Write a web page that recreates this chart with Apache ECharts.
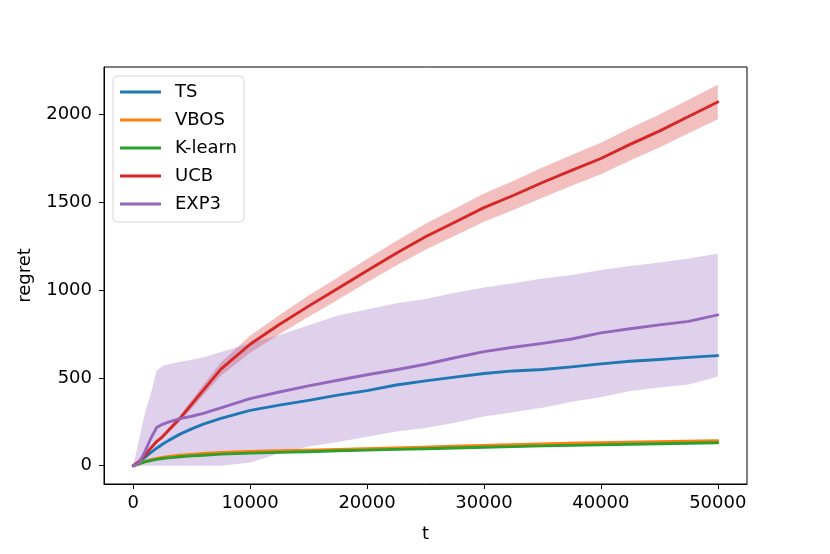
<!DOCTYPE html>
<html>
<head>
<meta charset="utf-8">
<script src="https://cdn.jsdelivr.net/npm/echarts@6/dist/echarts.min.js"></script>
<style>html,body{margin:0;padding:0;background:#fff;}#c{width:830px;height:554px;}</style>
</head>
<body>
<div id="c"></div>
<script>
const t = [0,500,1000,1500,2000,2500,3000,4000,5000,6000,7500,10000,12500,15000,17500,20000,22500,25000,27500,30000,32500,35000,37500,40000,42500,45000,47500,50000];
const ts = [0,20,48,75,100,122,143,180,210,237,270,315,345,372,402,428,460,483,505,525,540,548,563,580,595,605,617,627];
const vbos = [0,10,25,35,42,48,53,60,65,70,75,82,86,89,93,97,101,106,111,116,120,124,128,131,134,137,140,142];
const vbosSpread = [0,2,3,4,5,5,5,6,6,6,6,7,7,7,7,7,7,8,8,8,8,8,8,8,8,8,8,8];
const klearn = [0,10,22,30,36,41,45,51,56,60,66,72,76,80,85,89,93,97,101,105,109,113,116,119,122,125,128,131];
const klearnSpread = [0,1,2,2,3,3,3,3,4,4,4,4,4,4,5,5,5,5,5,5,5,5,5,5,5,5,5,5];
const ucb = [0,25,60,100,138,165,200,270,350,431,550,692,804,909,1009,1111,1210,1304,1387,1470,1539,1613,1682,1750,1830,1906,1989,2072];
const ucbSpread = [0,3,5,7,9,11,13,18,24,30,38,48,55,60,63,66,70,74,77,80,83,86,88,90,92,94,96,98];
const exp3 = [0,15,80,155,218,236,248,268,282,298,330,382,420,455,487,518,547,578,615,650,675,697,722,757,780,802,822,859];
const exp3Low = [0,0,0,0,0,0,0,0,0,0,0,18,70,110,135,165,195,215,245,280,305,330,365,390,425,445,462,507];
const exp3High = [0,150,300,410,540,570,578,592,603,618,648,698,745,800,855,890,925,950,985,1015,1040,1067,1086,1115,1138,1158,1180,1207];
const xTicks = [0,10000,20000,30000,40000,50000];
const yTicks = [0,500,1000,1500,2000];

const names = ['TS','VBOS','K-learn','UCB','EXP3'];
const colors = ['#1f77b4','#ff7f0e','#2ca02c','#d62728','#9467bd'];
const means = [ts, vbos, klearn, ucb, exp3];

function pairs(arr){ return t.map((x,i)=>[x, arr[i]]); }
function sub(a,b){ return a.map((v,i)=>v-b[i]); }
function add(a,b){ return a.map((v,i)=>v+b[i]); }

function bandSeries(name, lows, highs, color, z){
  return {
    type:'custom', name:name, z:z, clip:true, silent:true,
    data:[[0,0]],
    renderItem:function(params, api){
      const pts=[];
      for(let i=0;i<t.length;i++) pts.push(api.coord([t[i], lows[i]]));
      for(let i=t.length-1;i>=0;i--) pts.push(api.coord([t[i], highs[i]]));
      return {type:'polygon', shape:{points:pts}, style:{fill:color, opacity:0.3}};
    }
  };
}

const series = [];
series.push(bandSeries('vbosBand', sub(vbos,vbosSpread), add(vbos,vbosSpread), colors[1], 1));
series.push(bandSeries('klearnBand', sub(klearn,klearnSpread), add(klearn,klearnSpread), colors[2], 1));
series.push(bandSeries('ucbBand', sub(ucb,ucbSpread), add(ucb,ucbSpread), colors[3], 1));
series.push(bandSeries('exp3Band', exp3Low, exp3High, colors[4], 1));
names.forEach((n,i)=>{
  series.push({
    type:'line', name:n, data:pairs(means[i]), symbol:'none', showSymbol:false,
    lineStyle:{color:colors[i], width:2.9, cap:'round', join:'round'}, itemStyle:{color:colors[i]}, z:3+i, animation:false
  });
});

const font = 'DejaVu Sans';
const plain = v => String(v);
const chart = echarts.init(document.getElementById('c'), null, {renderer:'canvas'});
chart.setOption({
  animation:false,
  backgroundColor:'#fff',
  textStyle:{fontFamily:font},
  grid:{left:104, right:83, top:67, bottom:70, show:true, borderColor:'#000', borderWidth:1, backgroundColor:'transparent'},
  legend:{
    data:names.map(n=>({name:n, icon:'rect'})), orient:'vertical', left:113, top:76,
    padding:[7,7,9,7], itemGap:10, itemWidth:41, itemHeight:3,
    backgroundColor:'rgba(255,255,255,0.8)', borderColor:'#d6d6d6', borderWidth:1, borderRadius:4,
    textStyle:{fontFamily:font, fontSize:18, color:'#000', lineHeight:18, padding:[0,0,0,9]},
    selectedMode:false
  },
  xAxis:{
    type:'value', min:-2500, max:52500,
    name:'t', nameLocation:'middle', nameGap:41,
    nameTextStyle:{fontFamily:font, fontSize:18, color:'#000'},
    axisLine:{show:true, onZero:false, lineStyle:{color:'#000', width:1}},
    axisTick:{show:true, length:5, inside:false, customValues:xTicks, lineStyle:{color:'#000', width:1}},
    axisLabel:{customValues:xTicks, formatter:plain, fontFamily:font, fontSize:18, color:'#000', margin:10},
    splitLine:{show:false}
  },
  yAxis:{
    type:'value', min:-104, max:2271,
    name:'regret', nameLocation:'middle', nameGap:70,
    nameTextStyle:{fontFamily:font, fontSize:18, color:'#000'},
    axisLine:{show:true, onZero:false, lineStyle:{color:'#000', width:1}},
    axisTick:{show:true, length:5, inside:false, customValues:yTicks, lineStyle:{color:'#000', width:1}},
    axisLabel:{customValues:yTicks, formatter:plain, fontFamily:font, fontSize:18, color:'#000', margin:12},
    splitLine:{show:false}
  },
  series:series
});
</script>
</body>
</html>
